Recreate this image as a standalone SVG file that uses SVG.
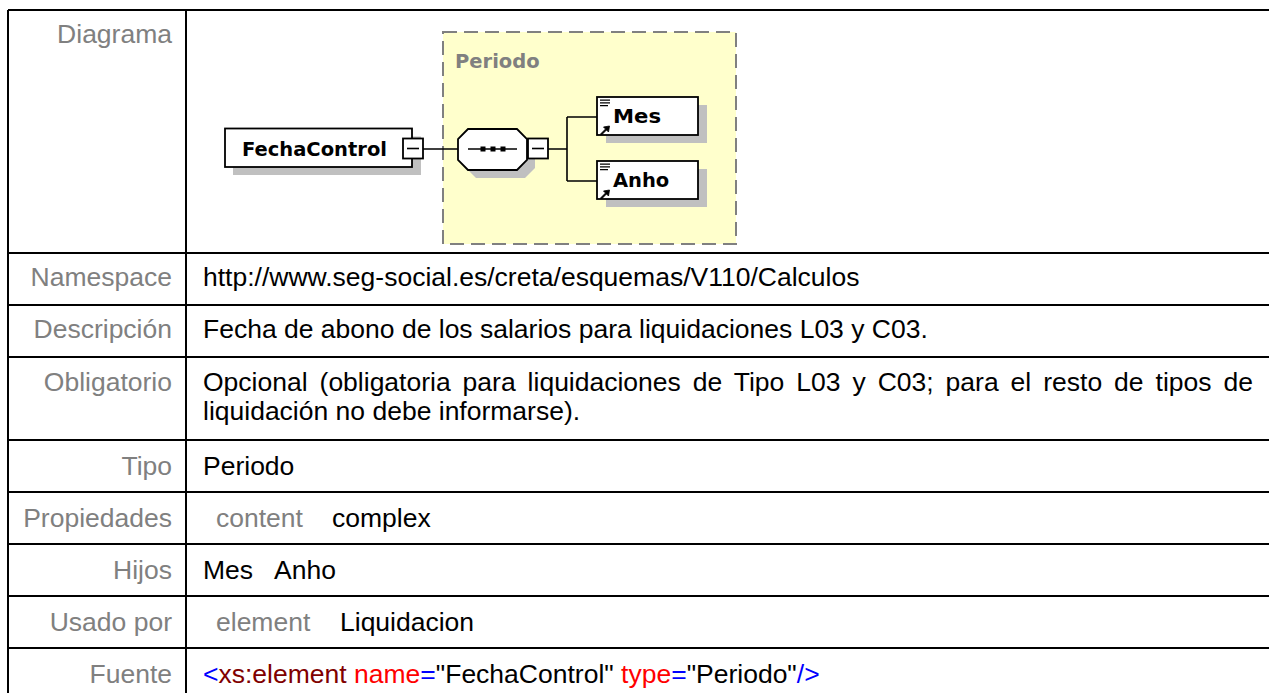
<svg xmlns="http://www.w3.org/2000/svg" width="1269" height="693" viewBox="0 0 1269 693">
<defs>
<style>
.grid{stroke:#000;stroke-width:2;fill:none}
.lbl{font-family:"Liberation Sans",Arial,sans-serif;font-size:26.5px;fill:#808080;text-anchor:end}
.val{font-family:"Liberation Sans",Arial,sans-serif;font-size:26.5px;fill:#000}
.gry{fill:#808080}
.nd{font-family:"DejaVu Sans",Verdana,sans-serif;font-weight:bold;font-size:19.5px;fill:#000}
.box{fill:#fff;stroke:#000;stroke-width:1.8}
.shd{fill:#c0c0c0}
.ln{stroke:#000;stroke-width:1.6;fill:none}
.ico{stroke:#000;stroke-width:1.3;fill:none}
</style>
<g id="elemIcon">
<path class="ico" d="M0,0.7 h10 M0,3.4 h10 M0,6.1 h8"/>
<path d="M0.5,34.5 L5.5,29.5 L3.5,27.5 L9.5,26.5 L8.5,32.5 L6.5,30.5 L1.5,35.5 Z" fill="#000" stroke="#000" stroke-width="0.8"/>
</g>
</defs>
<rect x="0" y="0" width="1269" height="693" fill="#fff"/>
<g id="table">
<path class="grid" d="M8,10 H1269 M8,10 V693 M186,10 V693 M8,253 H1269 M8,305 H1269 M8,357 H1269 M8,440 H1269 M8,492 H1269 M8,544 H1269 M8,596 H1269 M8,648 H1269"/>
</g>
<g id="labels">
<text class="lbl" x="172" y="43">Diagrama</text>
<text class="lbl" x="172" y="286">Namespace</text>
<text class="lbl" x="172" y="338">Descripción</text>
<text class="lbl" x="172" y="391">Obligatorio</text>
<text class="lbl" x="172" y="475">Tipo</text>
<text class="lbl" x="172" y="527">Propiedades</text>
<text class="lbl" x="172" y="579">Hijos</text>
<text class="lbl" x="172" y="631">Usado por</text>
<text class="lbl" x="172" y="683">Fuente</text>
</g>
<g id="values">
<text class="val" x="203" y="286">http://www.seg-social.es/creta/esquemas/V110/Calculos</text>
<text class="val" x="203" y="338">Fecha de abono de los salarios para liquidaciones L03 y C03.</text>
<text class="val" x="203" y="391" word-spacing="4.6">Opcional (obligatoria para liquidaciones de Tipo L03 y C03; para el resto de tipos de</text>
<text class="val" x="203" y="420">liquidación no debe informarse).</text>
<text class="val" x="203" y="475">Periodo</text>
<text class="val" y="527"><tspan class="gry" x="216">content</tspan><tspan x="332">complex</tspan></text>
<text class="val" y="579"><tspan x="203">Mes</tspan><tspan x="274">Anho</tspan></text>
<text class="val" y="631"><tspan class="gry" x="216">element</tspan><tspan x="340">Liquidacion</tspan></text>
<text class="val" x="203" y="683"><tspan fill="#0000ff">&lt;</tspan><tspan fill="#800000">xs:element</tspan> <tspan fill="#ff0000">name</tspan><tspan fill="#0000ff">=</tspan>"FechaControl" <tspan fill="#ff0000">type</tspan><tspan fill="#0000ff">=</tspan>"Periodo"<tspan fill="#0000ff">/&gt;</tspan></text>
</g>
<g id="periodo">
<rect x="443" y="32" width="293" height="212" fill="#ffffcc" stroke="#808080" stroke-width="2" stroke-dasharray="14,7"/>
<text class="nd" x="455" y="68" style="fill:#808080">Periodo</text>
</g>
<g id="connectors">
<path class="ln" d="M423,149 H458 M548,149 H567 M567,117 V181 M567,117 H597 M567,181 H597"/>
</g>
<g id="FechaControl">
<rect class="shd" x="233" y="136.5" width="188" height="38.5"/>
<rect class="box" x="225" y="128.5" width="187" height="38.5"/>
<text class="nd" x="242" y="156">FechaControl</text>
<rect class="box" x="403" y="138.5" width="20" height="20"/>
<path class="ln" d="M407,148.5 H419"/>
</g>
<g id="sequence">
<polygon class="shd" points="476,137 525,137 535,147 535,168 525,178 476,178 466,168 466,147"/>
<polygon class="box" points="468,129 517,129 527,139 527,160 517,170 468,170 458,160 458,139"/>
<path class="ln" d="M468,149 H517"/>
<rect x="480.5" y="146.5" width="5" height="5" fill="#000"/>
<rect x="490.5" y="146.5" width="5" height="5" fill="#000"/>
<rect x="500.5" y="146.5" width="5" height="5" fill="#000"/>
<rect class="box" x="528" y="138.5" width="20" height="20"/>
<path class="ln" d="M532,148.5 H544"/>
</g>
<g id="Mes">
<rect class="shd" x="606" y="105" width="101" height="38"/>
<rect class="box" x="597" y="97" width="101" height="38"/>
<use href="#elemIcon" x="600" y="99.5"/>
<text class="nd" x="613" y="123" textLength="48" lengthAdjust="spacingAndGlyphs">Mes</text>
</g>
<g id="Anho">
<rect class="shd" x="606" y="169" width="101" height="38"/>
<rect class="box" x="597" y="161" width="101" height="38"/>
<use href="#elemIcon" x="600" y="163.5"/>
<text class="nd" x="613" y="187">Anho</text>
</g>
</svg>
